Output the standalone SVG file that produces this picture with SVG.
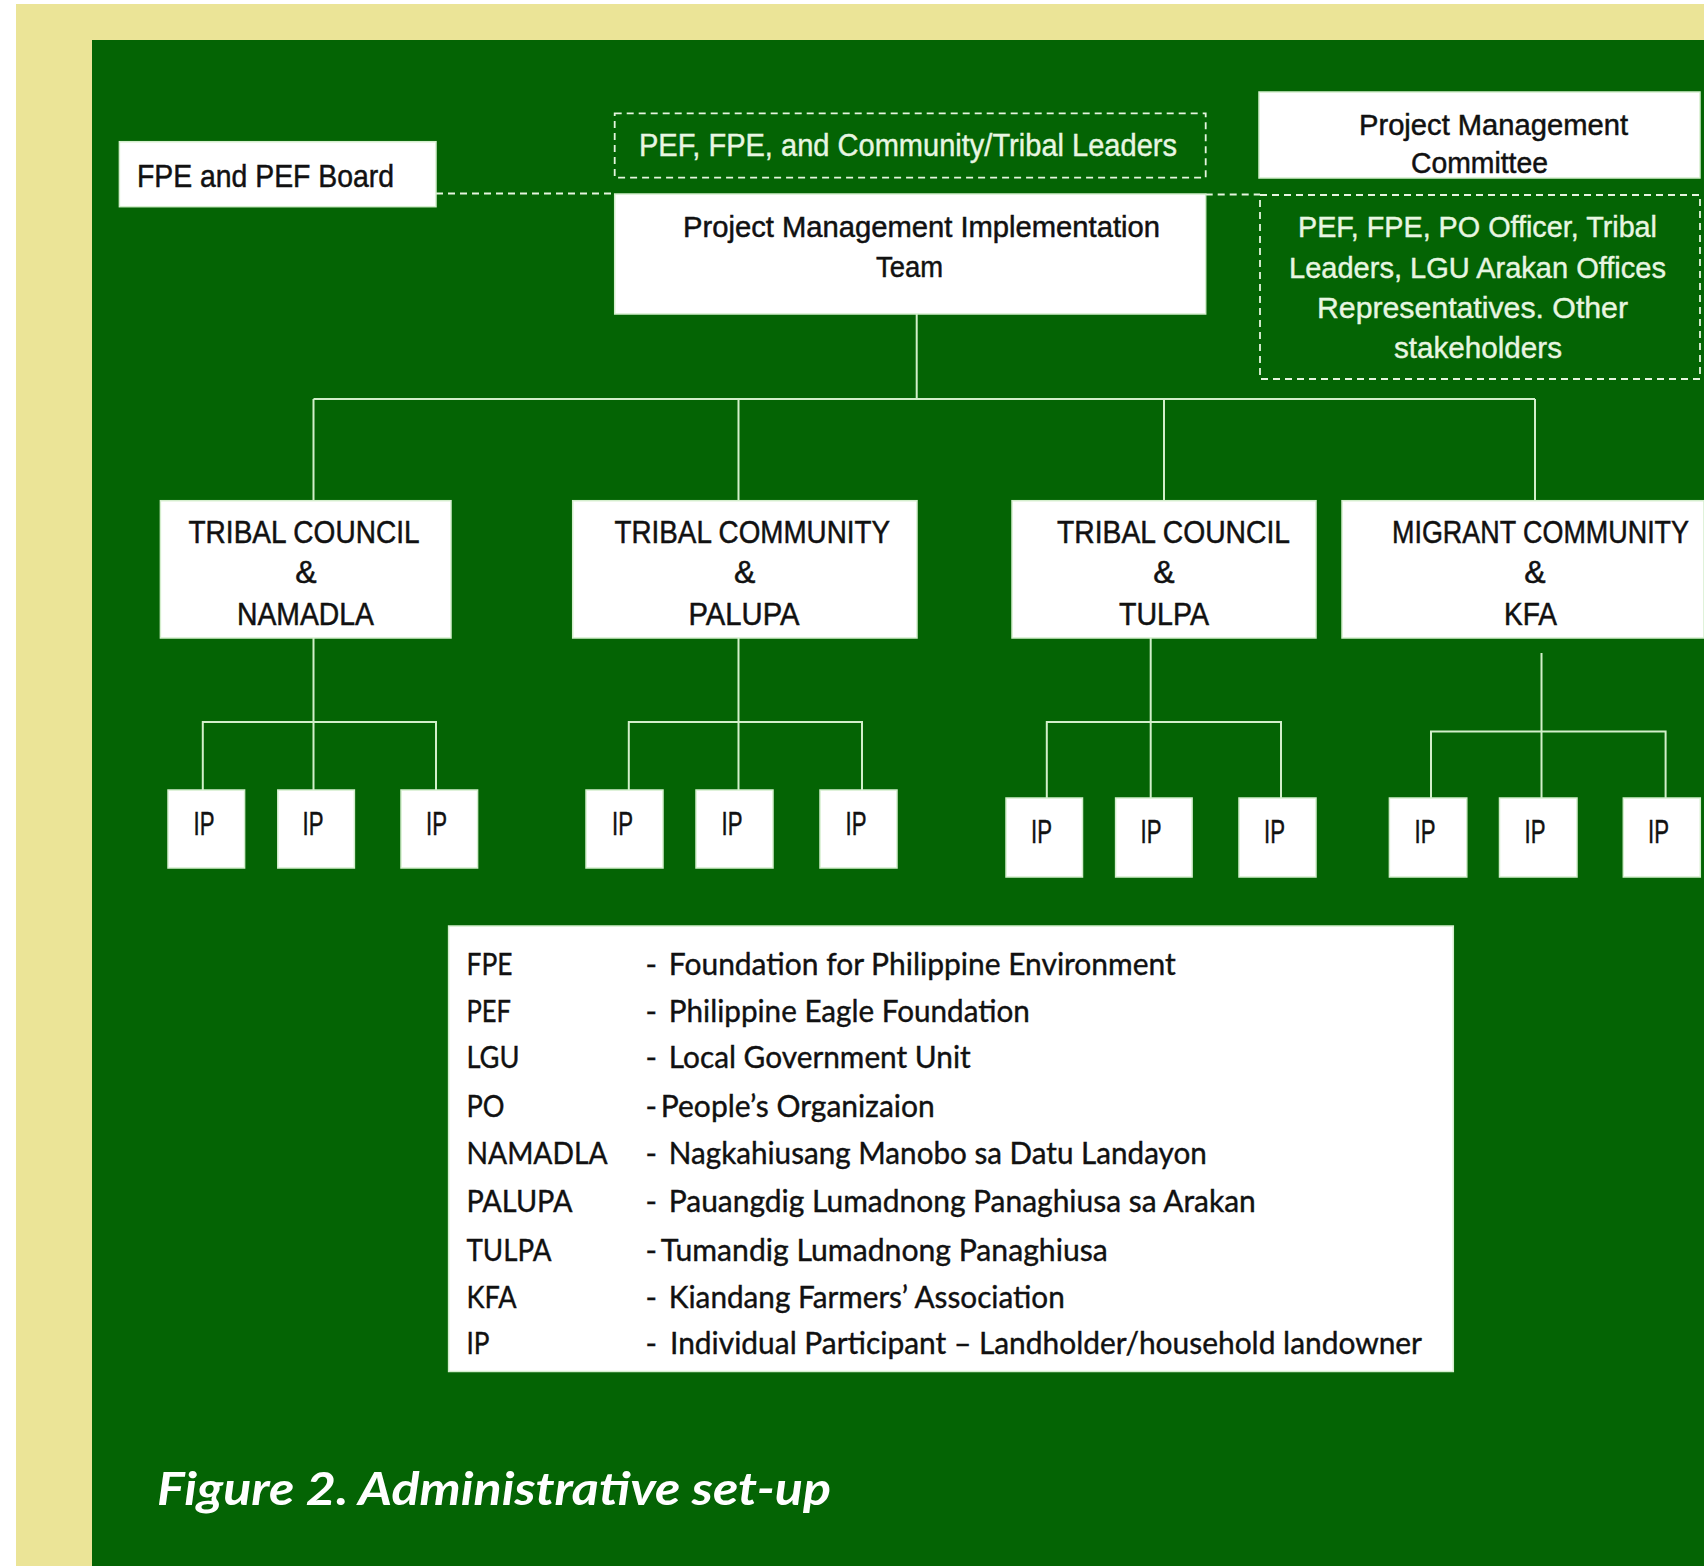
<svg xmlns="http://www.w3.org/2000/svg" width="1704" height="1566" viewBox="0 0 1704 1566">
<style>
.box{fill:#ffffff;stroke:#d4eecd;stroke-width:1.5}
.dbox{fill:none;stroke:#e6f5df;stroke-width:1.8;stroke-dasharray:7 5}
.dline{fill:none;stroke:#e6f5df;stroke-width:1.8;stroke-dasharray:7 5}
.conn{fill:none;stroke:#d2efca;stroke-width:2}
.t{font-family:"Liberation Sans",Arial,sans-serif;fill:#111111;stroke:#111111;stroke-width:0.5}
.tl{font-family:"Liberation Sans",Arial,sans-serif;fill:#e8f6e1;stroke:#e8f6e1;stroke-width:0.4}
.ip{font-family:"Liberation Sans",Arial,sans-serif;fill:#111111;stroke:#111111;stroke-width:0.5;font-size:34px}
.lg{font-family:Lato,"Open Sans",sans-serif;fill:#111111;stroke:#111111;stroke-width:0.4;font-size:31px}
.cap{font-family:Lato,"Open Sans",sans-serif;fill:#ffffff;font-size:46px;font-weight:bold;font-style:italic}
</style>
<rect x="0" y="0" width="1704" height="1566" fill="#ffffff"/>
<rect x="16" y="4" width="1688" height="1562" fill="#ebe497"/>
<rect x="92" y="40" width="1612" height="1526" fill="#046404"/>

<g id="connectors">
  <line class="dline" x1="436" y1="193.5" x2="614.7" y2="193.5"/>
  <line class="dline" x1="1205.7" y1="194.5" x2="1260" y2="194.5"/>
  <line class="conn" x1="916.7" y1="314" x2="916.7" y2="399"/>
  <line class="conn" x1="313.5" y1="399" x2="1535" y2="399"/>
  <line class="conn" x1="313.5" y1="399" x2="313.5" y2="500.7"/>
  <line class="conn" x1="738.5" y1="399" x2="738.5" y2="500.7"/>
  <line class="conn" x1="1164" y1="399" x2="1164" y2="500.7"/>
  <line class="conn" x1="1535" y1="399" x2="1535" y2="500.7"/>
  <line class="conn" x1="313.5" y1="638" x2="313.5" y2="790"/>
  <polyline class="conn" points="202.8,790 202.8,722 436,722 436,790"/>
  <line class="conn" x1="738.5" y1="638" x2="738.5" y2="790"/>
  <polyline class="conn" points="628.8,790 628.8,722 862,722 862,790"/>
  <line class="conn" x1="1150.7" y1="638" x2="1150.7" y2="798"/>
  <polyline class="conn" points="1046.8,798 1046.8,722 1281,722 1281,798"/>
  <line class="conn" x1="1541.5" y1="653" x2="1541.5" y2="798"/>
  <polyline class="conn" points="1431,798 1431,731.5 1665.6,731.5 1665.6,798"/>
</g>

<g id="fpe-pef-board">
  <rect class="box" x="119.4" y="141.7" width="316.6" height="65"/>
  <text class="t" x="137" y="187" font-size="32" textLength="257" lengthAdjust="spacingAndGlyphs">FPE and PEF Board</text>
</g>

<g id="leaders">
  <rect class="dbox" x="614.7" y="113.3" width="591" height="64.4"/>
  <text class="tl" x="639" y="156" font-size="31" textLength="538" lengthAdjust="spacingAndGlyphs">PEF, FPE, and Community/Tribal Leaders</text>
</g>

<g id="pmit">
  <rect class="box" x="614.7" y="194" width="591" height="120"/>
  <text class="t" x="683" y="237" font-size="30" textLength="477" lengthAdjust="spacingAndGlyphs">Project Management Implementation</text>
  <text class="t" x="876" y="277" font-size="30" textLength="67" lengthAdjust="spacingAndGlyphs">Team</text>
</g>

<g id="pmc">
  <rect class="box" x="1259" y="92" width="441" height="86"/>
  <text class="t" x="1359" y="135" font-size="30" textLength="269" lengthAdjust="spacingAndGlyphs">Project Management</text>
  <text class="t" x="1411" y="173" font-size="30" textLength="137" lengthAdjust="spacingAndGlyphs">Committee</text>
</g>

<g id="pmc-members">
  <rect class="dbox" x="1260" y="195" width="440" height="184"/>
  <text class="tl" x="1298" y="237" font-size="29" textLength="359" lengthAdjust="spacingAndGlyphs">PEF, FPE, PO Officer, Tribal</text>
  <text class="tl" x="1289" y="278" font-size="29" textLength="377" lengthAdjust="spacingAndGlyphs">Leaders, LGU Arakan Offices</text>
  <text class="tl" x="1317" y="318" font-size="29" textLength="311" lengthAdjust="spacingAndGlyphs">Representatives. Other</text>
  <text class="tl" x="1394" y="358" font-size="29" textLength="168" lengthAdjust="spacingAndGlyphs">stakeholders</text>
</g>

<g id="namadla">
  <rect class="box" x="160.4" y="500.7" width="290.6" height="137.3"/>
  <text class="t" x="188.5" y="543" font-size="32" textLength="231" lengthAdjust="spacingAndGlyphs">TRIBAL COUNCIL</text>
  <text class="t" x="306" y="583" font-size="32" text-anchor="middle">&amp;</text>
  <text class="t" x="237" y="625" font-size="32" textLength="137" lengthAdjust="spacingAndGlyphs">NAMADLA</text>
</g>

<g id="palupa">
  <rect class="box" x="572.7" y="500.7" width="344.3" height="137.3"/>
  <text class="t" x="614.5" y="543" font-size="32" textLength="275.5" lengthAdjust="spacingAndGlyphs">TRIBAL COMMUNITY</text>
  <text class="t" x="744.6" y="583" font-size="32" text-anchor="middle">&amp;</text>
  <text class="t" x="688.5" y="625" font-size="32" textLength="111" lengthAdjust="spacingAndGlyphs">PALUPA</text>
</g>

<g id="tulpa">
  <rect class="box" x="1012" y="500.7" width="304" height="137.3"/>
  <text class="t" x="1057" y="543" font-size="32" textLength="233" lengthAdjust="spacingAndGlyphs">TRIBAL COUNCIL</text>
  <text class="t" x="1164" y="583" font-size="32" text-anchor="middle">&amp;</text>
  <text class="t" x="1119" y="625" font-size="32" textLength="90" lengthAdjust="spacingAndGlyphs">TULPA</text>
</g>

<g id="kfa">
  <rect class="box" x="1342" y="500.7" width="362" height="137.3"/>
  <text class="t" x="1392" y="543" font-size="32" textLength="297" lengthAdjust="spacingAndGlyphs">MIGRANT COMMUNITY</text>
  <text class="t" x="1535" y="583" font-size="32" text-anchor="middle">&amp;</text>
  <text class="t" x="1504" y="625" font-size="32" textLength="53" lengthAdjust="spacingAndGlyphs">KFA</text>
</g>

<g id="ip-1a"><rect class="box" x="168" y="790" width="76.6" height="78"/><text class="ip" x="193.6" y="835" textLength="21" lengthAdjust="spacingAndGlyphs">IP</text></g>
<g id="ip-1b"><rect class="box" x="277.8" y="790" width="76.6" height="78"/><text class="ip" x="302.5" y="835" textLength="21" lengthAdjust="spacingAndGlyphs">IP</text></g>
<g id="ip-1c"><rect class="box" x="401" y="790" width="76.6" height="78"/><text class="ip" x="426" y="835" textLength="21" lengthAdjust="spacingAndGlyphs">IP</text></g>

<g id="ip-2a"><rect class="box" x="586" y="790" width="77" height="78"/><text class="ip" x="612" y="835" textLength="21" lengthAdjust="spacingAndGlyphs">IP</text></g>
<g id="ip-2b"><rect class="box" x="696" y="790" width="77" height="78"/><text class="ip" x="721.6" y="835" textLength="21" lengthAdjust="spacingAndGlyphs">IP</text></g>
<g id="ip-2c"><rect class="box" x="820" y="790" width="77" height="78"/><text class="ip" x="845.6" y="835" textLength="21" lengthAdjust="spacingAndGlyphs">IP</text></g>

<g id="ip-3a"><rect class="box" x="1006" y="798" width="76.5" height="79"/><text class="ip" x="1031" y="843" textLength="21" lengthAdjust="spacingAndGlyphs">IP</text></g>
<g id="ip-3b"><rect class="box" x="1115.6" y="798" width="76.5" height="79"/><text class="ip" x="1140.5" y="843" textLength="21" lengthAdjust="spacingAndGlyphs">IP</text></g>
<g id="ip-3c"><rect class="box" x="1239" y="798" width="77" height="79"/><text class="ip" x="1264" y="843" textLength="21" lengthAdjust="spacingAndGlyphs">IP</text></g>

<g id="ip-4a"><rect class="box" x="1389.4" y="798" width="77.4" height="79"/><text class="ip" x="1414.6" y="843" textLength="21" lengthAdjust="spacingAndGlyphs">IP</text></g>
<g id="ip-4b"><rect class="box" x="1499.5" y="798" width="77.5" height="79"/><text class="ip" x="1524.6" y="843" textLength="21" lengthAdjust="spacingAndGlyphs">IP</text></g>
<g id="ip-4c"><rect class="box" x="1623.3" y="798" width="77" height="79"/><text class="ip" x="1648" y="843" textLength="21" lengthAdjust="spacingAndGlyphs">IP</text></g>

<g id="legend">
  <rect class="box" x="448.6" y="926" width="1004.7" height="445.5"/>
  <text class="lg" x="466.5" y="975" textLength="46" lengthAdjust="spacingAndGlyphs">FPE</text>
  <text class="lg" x="645.6" y="975">-</text>
  <text class="lg" x="668.8" y="975" textLength="507" lengthAdjust="spacingAndGlyphs">Foundation for Philippine Environment</text>

  <text class="lg" x="466.5" y="1021.5" textLength="44.5" lengthAdjust="spacingAndGlyphs">PEF</text>
  <text class="lg" x="645.6" y="1021.5">-</text>
  <text class="lg" x="668.8" y="1021.5" textLength="361" lengthAdjust="spacingAndGlyphs">Philippine Eagle Foundation</text>

  <text class="lg" x="466.5" y="1068" textLength="53" lengthAdjust="spacingAndGlyphs">LGU</text>
  <text class="lg" x="645.6" y="1068">-</text>
  <text class="lg" x="668.8" y="1068" textLength="302" lengthAdjust="spacingAndGlyphs">Local Government Unit</text>

  <text class="lg" x="466.5" y="1117" textLength="38" lengthAdjust="spacingAndGlyphs">PO</text>
  <text class="lg" x="645.6" y="1117">-</text>
  <text class="lg" x="660.8" y="1117" textLength="274" lengthAdjust="spacingAndGlyphs">People’s Organizaion</text>

  <text class="lg" x="466.5" y="1164" textLength="141" lengthAdjust="spacingAndGlyphs">NAMADLA</text>
  <text class="lg" x="645.6" y="1164">-</text>
  <text class="lg" x="668.8" y="1164" textLength="538" lengthAdjust="spacingAndGlyphs">Nagkahiusang Manobo sa Datu Landayon</text>

  <text class="lg" x="466.5" y="1212" textLength="106" lengthAdjust="spacingAndGlyphs">PALUPA</text>
  <text class="lg" x="645.6" y="1212">-</text>
  <text class="lg" x="668.8" y="1212" textLength="587" lengthAdjust="spacingAndGlyphs">Pauangdig Lumadnong Panaghiusa sa Arakan</text>

  <text class="lg" x="466.5" y="1260.5" textLength="85" lengthAdjust="spacingAndGlyphs">TULPA</text>
  <text class="lg" x="645.6" y="1260.5">-</text>
  <text class="lg" x="660.8" y="1260.5" textLength="447" lengthAdjust="spacingAndGlyphs">Tumandig Lumadnong Panaghiusa</text>

  <text class="lg" x="466.5" y="1307.5" textLength="50" lengthAdjust="spacingAndGlyphs">KFA</text>
  <text class="lg" x="645.6" y="1307.5">-</text>
  <text class="lg" x="668.8" y="1307.5" textLength="396" lengthAdjust="spacingAndGlyphs">Kiandang Farmers’ Association</text>

  <text class="lg" x="466.5" y="1354" textLength="23" lengthAdjust="spacingAndGlyphs">IP</text>
  <text class="lg" x="645.6" y="1354">-</text>
  <text class="lg" x="670" y="1354" textLength="752" lengthAdjust="spacingAndGlyphs">Individual Participant – Landholder/household landowner</text>
</g>

<text class="cap" x="157" y="1505" textLength="674" lengthAdjust="spacingAndGlyphs">Figure 2. Administrative set-up</text>
</svg>
